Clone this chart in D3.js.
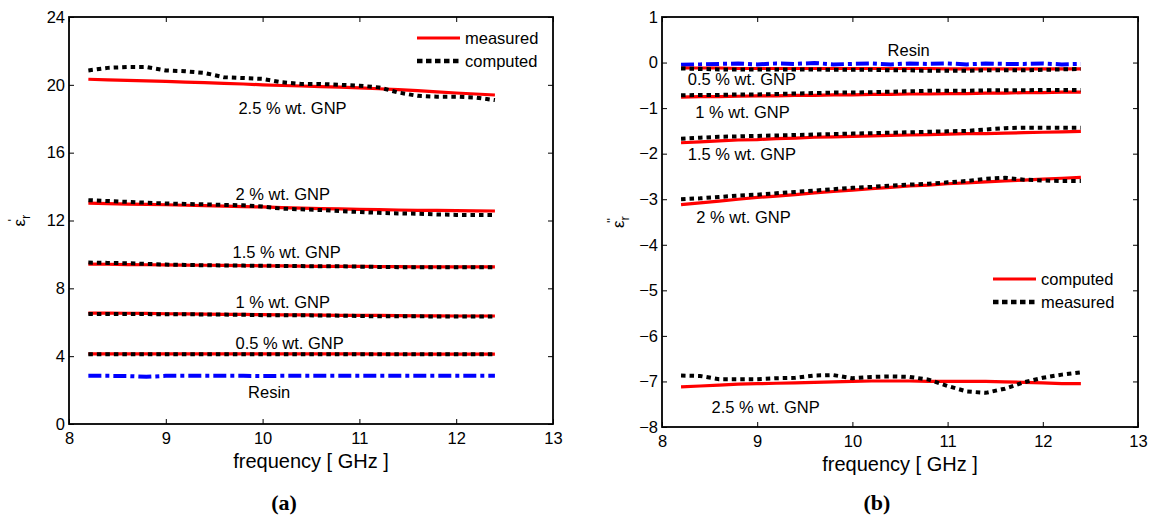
<!DOCTYPE html>
<html>
<head>
<meta charset="utf-8">
<script src="https://cdn.jsdelivr.net/npm/d3@7"></script>
<style>
  body { margin: 0; background: #fff; }
  svg { font-family: Arial, "Liberation Sans", sans-serif; }
</style>
</head>
<body>
<svg id="fig" width="1149" height="515"></svg>
<script>
// frequency samples (GHz)
const freq = [8.2, 8.4, 8.6, 8.8, 9.0, 9.2, 9.4, 9.6, 9.8, 10.0, 10.2, 10.4, 10.6, 10.8, 11.0, 11.2, 11.4, 11.6, 11.8, 12.0, 12.2, 12.4]

// (a) real part, measured (red)
const reMeas25 = [20.33, 20.29, 20.26, 20.23, 20.2, 20.16, 20.13, 20.09, 20.05, 20.0, 19.96, 19.93, 19.89, 19.86, 19.82, 19.77, 19.72, 19.66, 19.59, 19.52, 19.46, 19.4]
const reMeas20 = [13.02, 13.0, 12.97, 12.95, 12.93, 12.9, 12.88, 12.85, 12.82, 12.8, 12.76, 12.73, 12.7, 12.68, 12.66, 12.64, 12.62, 12.6, 12.6, 12.58, 12.57, 12.56]
const reMeas15 = [9.43, 9.42, 9.4, 9.39, 9.38, 9.37, 9.36, 9.35, 9.34, 9.33, 9.32, 9.31, 9.3, 9.3, 9.29, 9.28, 9.28, 9.27, 9.27, 9.26, 9.26, 9.26]
const reMeas10 = [6.54, 6.54, 6.53, 6.52, 6.5, 6.49, 6.48, 6.47, 6.46, 6.45, 6.44, 6.43, 6.42, 6.41, 6.4, 6.4, 6.39, 6.38, 6.38, 6.37, 6.37, 6.37]
const reMeas05 = [4.14, 4.14, 4.14, 4.13, 4.13, 4.13, 4.13, 4.13, 4.13, 4.13, 4.13, 4.13, 4.13, 4.13, 4.13, 4.12, 4.12, 4.12, 4.12, 4.12, 4.12, 4.12]
// (a) real part, computed (black dotted)
const reComp25 = [20.85, 21.0, 21.05, 21.05, 20.85, 20.8, 20.7, 20.45, 20.4, 20.35, 20.15, 20.05, 20.05, 20.0, 19.95, 19.85, 19.55, 19.35, 19.3, 19.3, 19.25, 19.1]
const reComp20 = [13.2, 13.15, 13.1, 13.05, 13.0, 12.98, 12.95, 12.92, 12.9, 12.82, 12.7, 12.66, 12.62, 12.55, 12.5, 12.45, 12.42, 12.4, 12.36, 12.33, 12.32, 12.32]
const reComp15 = [9.52, 9.5, 9.48, 9.44, 9.4, 9.38, 9.36, 9.35, 9.34, 9.33, 9.32, 9.31, 9.3, 9.3, 9.28, 9.26, 9.25, 9.25, 9.25, 9.24, 9.24, 9.24]
const reComp10 = [6.48, 6.48, 6.48, 6.48, 6.47, 6.47, 6.46, 6.45, 6.44, 6.42, 6.42, 6.41, 6.4, 6.39, 6.37, 6.35, 6.35, 6.35, 6.34, 6.34, 6.34, 6.34]
const reComp05 = [4.12, 4.12, 4.12, 4.12, 4.12, 4.12, 4.12, 4.12, 4.12, 4.12, 4.12, 4.12, 4.12, 4.12, 4.12, 4.12, 4.12, 4.12, 4.12, 4.12, 4.12, 4.12]
const reResin = [2.84, 2.84, 2.83, 2.78, 2.84, 2.84, 2.84, 2.84, 2.84, 2.83, 2.84, 2.84, 2.84, 2.84, 2.84, 2.84, 2.84, 2.84, 2.84, 2.84, 2.84, 2.84]

// (b) imaginary part, computed (red)
const imComp05 = [-0.12, -0.12, -0.12, -0.13, -0.13, -0.13, -0.13, -0.13, -0.13, -0.13, -0.13, -0.13, -0.13, -0.13, -0.14, -0.14, -0.14, -0.14, -0.14, -0.14, -0.14, -0.14]
const imComp10 = [-0.76, -0.75, -0.75, -0.74, -0.73, -0.73, -0.72, -0.72, -0.71, -0.71, -0.7, -0.7, -0.69, -0.69, -0.68, -0.68, -0.67, -0.67, -0.66, -0.66, -0.65, -0.65]
const imComp15 = [-1.76, -1.74, -1.72, -1.7, -1.69, -1.67, -1.66, -1.64, -1.63, -1.62, -1.61, -1.6, -1.59, -1.58, -1.57, -1.56, -1.56, -1.55, -1.54, -1.53, -1.52, -1.51]
const imComp20 = [-3.12, -3.08, -3.04, -3.0, -2.96, -2.93, -2.9, -2.86, -2.83, -2.8, -2.77, -2.74, -2.71, -2.69, -2.66, -2.64, -2.62, -2.6, -2.58, -2.56, -2.54, -2.52]
const imComp25 = [-7.12, -7.1, -7.08, -7.06, -7.05, -7.04, -7.03, -7.02, -7.01, -7.0, -6.99, -6.99, -6.99, -7.0, -7.0, -7.0, -7.0, -7.01, -7.02, -7.03, -7.05, -7.05]
// (b) imaginary part, measured (black dotted)
const imMeas05 = [-0.13, -0.14, -0.15, -0.15, -0.15, -0.15, -0.15, -0.15, -0.16, -0.16, -0.16, -0.17, -0.17, -0.18, -0.18, -0.18, -0.17, -0.17, -0.17, -0.16, -0.15, -0.14]
const imMeas10 = [-0.72, -0.71, -0.71, -0.7, -0.7, -0.69, -0.68, -0.67, -0.66, -0.66, -0.65, -0.64, -0.63, -0.62, -0.62, -0.62, -0.61, -0.61, -0.61, -0.6, -0.6, -0.6]
const imMeas15 = [-1.67, -1.65, -1.63, -1.62, -1.61, -1.6, -1.59, -1.58, -1.57, -1.56, -1.55, -1.54, -1.53, -1.52, -1.51, -1.5, -1.47, -1.44, -1.43, -1.43, -1.43, -1.43]
const imMeas20 = [-3.0, -2.98, -2.95, -2.92, -2.9, -2.87, -2.84, -2.81, -2.78, -2.75, -2.73, -2.7, -2.68, -2.66, -2.63, -2.6, -2.55, -2.53, -2.57, -2.59, -2.6, -2.6]
const imMeas25 = [-6.87, -6.88, -6.95, -6.95, -6.95, -6.93, -6.92, -6.87, -6.86, -6.93, -6.9, -6.89, -6.9, -6.96, -7.1, -7.22, -7.25, -7.16, -7.02, -6.92, -6.85, -6.8]
const imResin = [-0.05, -0.04, -0.03, -0.02, -0.04, -0.02, -0.03, -0.01, -0.04, -0.03, -0.02, -0.04, -0.02, -0.03, -0.02, -0.04, -0.02, -0.03, -0.03, -0.02, -0.04, -0.03]

const xTicks = [8, 9, 10, 11, 12, 13]
const yTicksA = [0, 4, 8, 12, 16, 20, 24]
const yTicksB = [1, 0, -1, -2, -3, -4, -5, -6, -7, -8]

// curve labels: text, frequency and value where they sit
const labelsA = [
  ['2.5 % wt. GNP', 9.75, 18.63], ['2 % wt. GNP', 9.72, 13.56], ['1.5 % wt. GNP', 9.69, 10.14],
  ['1 % wt. GNP', 9.72, 7.19], ['0.5 % wt. GNP', 9.72, 4.78], ['Resin', 9.85, 1.89]
]
const labelsB = [
  ['Resin', 10.37, 0.27], ['0.5 % wt. GNP', 8.27, -0.36], ['1 % wt. GNP', 8.35, -1.09],
  ['1.5 % wt. GNP', 8.27, -2.01], ['2 % wt. GNP', 8.36, -3.39], ['2.5 % wt. GNP', 8.52, -7.56]
]

const RED = '#ff0000', BLUE = '#0000ff'
const solid = {stroke: RED, width: 3.2, dash: null}
const dotted = {stroke: '#000', width: 4, dash: '4.5,4'}
const dashdot = {stroke: BLUE, width: 4, dash: '13,4,4,4'}

const svg = d3.select('#fig')

function panel(o) {
  const x = d3.scaleLinear().domain([8, 13]).range([o.left, o.right])
  const y = d3.scaleLinear().domain(o.yDomain).range([o.bottom, o.top])
  const g = svg.append('g')
  const tk = 5

  const axes = [
    [d3.axisBottom(x).tickValues(xTicks).tickFormat(d3.format('d')).tickPadding(8), `translate(0,${o.bottom})`],
    [d3.axisTop(x).tickValues(xTicks).tickFormat(''), `translate(0,${o.top})`],
    [d3.axisLeft(y).tickValues(o.yTicks).tickFormat(d3.format('d')).tickPadding(4), `translate(${o.left},0)`],
    [d3.axisRight(y).tickValues(o.yTicks).tickFormat(''), `translate(${o.right},0)`]
  ]
  axes.forEach(([ax, tr]) => {
    const a = g.append('g').attr('transform', tr).call(ax.tickSizeInner(-tk).tickSizeOuter(0))
    a.select('.domain').remove()
    a.selectAll('line').attr('stroke', '#000').attr('stroke-width', 1)
    a.selectAll('text').attr('font-size', 16.5).attr('fill', '#000').attr('font-family', 'Arial, "Liberation Sans", sans-serif')
  })

  const line = d3.line().x((d, i) => x(freq[i])).y(d => y(d))
  o.series.forEach(([vals, st]) => {
    g.append('path').datum(vals).attr('d', line)
      .attr('fill', 'none').attr('stroke', st.stroke).attr('stroke-width', st.width)
      .attr('stroke-dasharray', st.dash)
  })

  g.append('rect').attr('x', o.left).attr('y', o.top)
    .attr('width', o.right - o.left).attr('height', o.bottom - o.top)
    .attr('fill', 'none').attr('stroke', '#000').attr('stroke-width', 1.8)

  g.selectAll('.lab').data(o.labels).join('text')
    .attr('x', d => x(d[1])).attr('y', d => y(d[2]))
    .attr('dy', '0.35em').attr('font-size', 16.5).text(d => d[0])

  // legend
  o.legend.forEach(([name, st], i) => {
    const ly = o.legendY + i * 23
    g.append('line').attr('x1', o.legendX).attr('x2', o.legendX + 43).attr('y1', ly).attr('y2', ly)
      .attr('stroke', st.stroke).attr('stroke-width', st === dotted ? 4.5 : st.width)
      .attr('stroke-dasharray', st === dotted ? '5.5,3.5' : null)
    g.append('text').attr('x', o.legendX + 48).attr('y', ly).attr('dy', '0.35em')
      .attr('font-size', 16.5).text(name)
  })

  // x axis title
  g.append('text').attr('x', (o.left + o.right) / 2).attr('y', o.bottom + 44)
    .attr('text-anchor', 'middle').attr('font-size', 20).text('frequency [ GHz ]')

  // y axis title: epsilon_r with prime(s)
  const yl = g.append('text')
    .attr('transform', `translate(${o.yTitleX},${(o.top + o.bottom) / 2}) rotate(-90)`)
    .attr('text-anchor', 'middle').attr('font-size', 17)
  yl.append('tspan').text('ε')
  yl.append('tspan').attr('font-size', 13).attr('dy', 5).text('r')
  yl.append('tspan').attr('font-size', 13).attr('dy', -13).attr('dx', -7).text(o.prime)

  // panel caption
  svg.append('text').attr('x', o.captionX).attr('y', 510).attr('text-anchor', 'middle')
    .attr('font-family', '"Liberation Serif", "DejaVu Serif", serif')
    .attr('font-size', 22).attr('font-weight', 'bold').text(o.caption)
}

panel({
  left: 69, right: 553, top: 17, bottom: 424, yDomain: [0, 24], yTicks: yTicksA,
  series: [
    [reMeas25, solid], [reMeas20, solid], [reMeas15, solid], [reMeas10, solid], [reMeas05, solid],
    [reComp25, dotted], [reComp20, dotted], [reComp15, dotted], [reComp10, dotted], [reComp05, dotted],
    [reResin, dashdot]
  ],
  labels: labelsA,
  legend: [['measured', solid], ['computed', dotted]], legendX: 417, legendY: 38,
  yTitleX: 25, prime: "'", caption: '(a)', captionX: 284
})

panel({
  left: 662, right: 1138, top: 17, bottom: 427, yDomain: [-8, 1], yTicks: yTicksB,
  series: [
    [imResin, dashdot],
    [imComp05, solid], [imComp10, solid], [imComp15, solid], [imComp20, solid], [imComp25, solid],
    [imMeas05, dotted], [imMeas10, dotted], [imMeas15, dotted], [imMeas20, dotted], [imMeas25, dotted]
  ],
  labels: labelsB,
  legend: [['computed', solid], ['measured', dotted]], legendX: 993, legendY: 279,
  yTitleX: 624, prime: "''", caption: '(b)', captionX: 877
})
</script>
</body>
</html>
